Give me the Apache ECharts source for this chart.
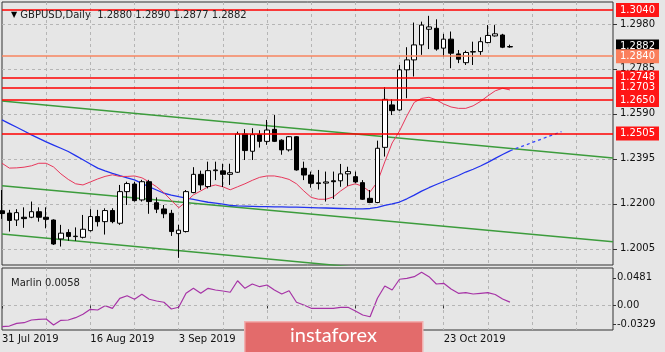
<!DOCTYPE html>
<html>
<head>
<meta charset="utf-8">
<script src="https://cdn.jsdelivr.net/npm/echarts@6/dist/echarts.min.js"></script>
<style>
  html, body { margin: 0; padding: 0; background: #e6e6e6; }
  #main { width: 665px; height: 352px; }
</style>
</head>
<body>
<div id="main"></div>
<script>
// GBPUSD daily bars, 31 Jul - 5 Nov 2019
var dates = [
  '31 Jul 2019', '1 Aug 2019', '2 Aug 2019', '5 Aug 2019', '6 Aug 2019', '7 Aug 2019', '8 Aug 2019', '9 Aug 2019',
  '12 Aug 2019', '13 Aug 2019', '14 Aug 2019', '15 Aug 2019', '16 Aug 2019', '19 Aug 2019', '20 Aug 2019', '21 Aug 2019',
  '22 Aug 2019', '23 Aug 2019', '26 Aug 2019', '27 Aug 2019', '28 Aug 2019', '29 Aug 2019', '30 Aug 2019', '2 Sep 2019',
  '3 Sep 2019', '4 Sep 2019', '5 Sep 2019', '6 Sep 2019', '9 Sep 2019', '10 Sep 2019', '11 Sep 2019', '12 Sep 2019',
  '13 Sep 2019', '16 Sep 2019', '17 Sep 2019', '18 Sep 2019', '19 Sep 2019', '20 Sep 2019', '23 Sep 2019', '24 Sep 2019',
  '25 Sep 2019', '26 Sep 2019', '27 Sep 2019', '30 Sep 2019', '1 Oct 2019', '2 Oct 2019', '3 Oct 2019', '4 Oct 2019',
  '7 Oct 2019', '8 Oct 2019', '9 Oct 2019', '10 Oct 2019', '11 Oct 2019', '14 Oct 2019', '15 Oct 2019', '16 Oct 2019',
  '17 Oct 2019', '18 Oct 2019', '21 Oct 2019', '22 Oct 2019', '23 Oct 2019', '24 Oct 2019', '25 Oct 2019', '28 Oct 2019',
  '29 Oct 2019', '30 Oct 2019', '31 Oct 2019', '1 Nov 2019', '4 Nov 2019', '5 Nov 2019'
];

var open = [
  1.2170, 1.2160, 1.2130, 1.2142, 1.2142, 1.2166, 1.2142, 1.2130, 1.2048, 1.2076,
  1.2058, 1.2055, 1.2084, 1.2145, 1.2123, 1.2171, 1.2116, 1.2253, 1.2286, 1.2217,
  1.2296, 1.2205, 1.2178, 1.2159, 1.2071, 1.2080, 1.2249, 1.2328, 1.2275, 1.2344,
  1.2343, 1.2328, 1.2337, 1.2503, 1.2428, 1.2500, 1.2471, 1.2523, 1.2476, 1.2434,
  1.2491, 1.2354, 1.2325, 1.2291, 1.2290, 1.2300, 1.2300, 1.2330, 1.2318, 1.2292,
  1.2224, 1.2206, 1.2445, 1.2629, 1.2607, 1.2781, 1.2824, 1.2889, 1.2957, 1.2961,
  1.2875, 1.2914, 1.2850, 1.2812, 1.2858, 1.2860, 1.2899, 1.2928, 1.2932, 1.2880
];
var high = [
  1.2260, 1.2174, 1.2177, 1.2185, 1.2210, 1.2185, 1.2185, 1.2133, 1.2109, 1.2090,
  1.2098, 1.2152, 1.2177, 1.2174, 1.2181, 1.2181, 1.2282, 1.2296, 1.2296, 1.2304,
  1.2304, 1.2228, 1.2195, 1.2174, 1.2109, 1.2260, 1.2359, 1.2344, 1.2383, 1.2383,
  1.2374, 1.2374, 1.2513, 1.2524, 1.2528, 1.2519, 1.2564, 1.2585, 1.2480, 1.2494,
  1.2494, 1.2383, 1.2340, 1.2347, 1.2340, 1.2340, 1.2373, 1.2361, 1.2340, 1.2303,
  1.2260, 1.2474, 1.2706, 1.2653, 1.2802, 1.2879, 1.2986, 1.2990, 1.3015, 1.3000,
  1.2937, 1.2947, 1.2867, 1.2864, 1.2903, 1.2922, 1.2975, 1.2975, 1.2937, 1.2890
];
var low = [
  1.2135, 1.2080, 1.2104, 1.2096, 1.2138, 1.2123, 1.2094, 1.2022, 1.2015, 1.2040,
  1.2040, 1.2050, 1.2080, 1.2102, 1.2067, 1.2116, 1.2109, 1.2195, 1.2210, 1.2210,
  1.2157, 1.2160, 1.2138, 1.2061, 1.1966, 1.2076, 1.2246, 1.2260, 1.2267, 1.2303,
  1.2273, 1.2282, 1.2334, 1.2390, 1.2390, 1.2444, 1.2456, 1.2468, 1.2413, 1.2427,
  1.2344, 1.2303, 1.2270, 1.2262, 1.2210, 1.2221, 1.2274, 1.2278, 1.2290, 1.2217,
  1.2203, 1.2203, 1.2405, 1.2585, 1.2604, 1.2658, 1.2752, 1.2846, 1.2871, 1.2864,
  1.2838, 1.2788, 1.2810, 1.2802, 1.2802, 1.2846, 1.2896, 1.2925, 1.2875, 1.2877
];
var close = [
  1.2158, 1.2128, 1.2162, 1.2136, 1.2166, 1.2142, 1.2133, 1.2026, 1.2073, 1.2059,
  1.2060, 1.2090, 1.2145, 1.2123, 1.2171, 1.2123, 1.2253, 1.2288, 1.2214, 1.2296,
  1.2210, 1.2177, 1.2157, 1.2080, 1.2086, 1.2253, 1.2328, 1.2282, 1.2344, 1.2347,
  1.2328, 1.2335, 1.2503, 1.2431, 1.2500, 1.2471, 1.2520, 1.2471, 1.2434, 1.2491,
  1.2347, 1.2325, 1.2289, 1.2288, 1.2295, 1.2296, 1.2330, 1.2340, 1.2295, 1.2220,
  1.2206, 1.2441, 1.2653, 1.2604, 1.2781, 1.2824, 1.2889, 1.2975, 1.2967, 1.2871,
  1.2914, 1.2853, 1.2827, 1.2856, 1.2860, 1.2903, 1.2930, 1.2937, 1.2879, 1.2882
];

// moving averages
var maSlow = [
  1.2564, 1.2548, 1.2532, 1.2516, 1.2499, 1.2484, 1.2469, 1.2455, 1.2441, 1.2427,
  1.2409, 1.2391, 1.2373, 1.2355, 1.2343, 1.2332, 1.2322, 1.2313, 1.2304, 1.2289,
  1.2274, 1.2260, 1.2246, 1.2238, 1.2231, 1.2225, 1.2219, 1.2213, 1.2207, 1.2203,
  1.2199, 1.2193, 1.2191, 1.2190, 1.2189, 1.2188, 1.2188, 1.2187, 1.2187, 1.2186,
  1.2186, 1.2185, 1.2184, 1.2183, 1.2182, 1.2181, 1.2180, 1.2179, 1.2178, 1.2178,
  1.2180, 1.2185, 1.2193, 1.2200, 1.2208, 1.2222, 1.2238, 1.2255, 1.2270, 1.2284,
  1.2297, 1.2310, 1.2323, 1.2338, 1.2350, 1.2364, 1.2380, 1.2397, 1.2414, 1.2430
];
var maSlowAhead = [[69, 1.2430], [76, 1.2513]];
var maFast = [
  1.2376, 1.2355, 1.2356, 1.2359, 1.2365, 1.2376, 1.2376, 1.2360, 1.2330, 1.2306,
  1.2287, 1.2282, 1.2295, 1.2308, 1.2319, 1.2326, 1.2319, 1.2319, 1.2321, 1.2313,
  1.2295, 1.2274, 1.2248, 1.2215, 1.2183, 1.2209, 1.2239, 1.2256, 1.2274, 1.2282,
  1.2274, 1.2261, 1.2274, 1.2287, 1.2302, 1.2315, 1.2321, 1.2321, 1.2315, 1.2306,
  1.2287, 1.2256, 1.2228, 1.2220, 1.2220, 1.2230, 1.2256, 1.2278, 1.2287, 1.2276,
  1.2252, 1.2295, 1.2382, 1.2464, 1.2516, 1.2581, 1.2640, 1.2657, 1.2662, 1.2651,
  1.2633, 1.2620, 1.2614, 1.2614, 1.2625, 1.2644, 1.2668, 1.2690, 1.2701, 1.2694
];

// trend channel lines (start bar / end bar)
var channelTop = [[0, 1.2646], [83, 1.2399]];
var channelMid = [[0, 1.2278], [83, 1.2036]];
var channelLow = [[0, 1.2069], [83, 1.1821]];

// horizontal levels
var redLevels = [1.3040, 1.2748, 1.2703, 1.2650];
var thinLevel = 1.2505;
var salmonLevel = 1.2840;

// Marlin oscillator
var marlin = [
  -0.0369, -0.0357, -0.0310, -0.0299, -0.0252, -0.0240, -0.0235, -0.0339, -0.0257, -0.0252,
  -0.0212, -0.0153, -0.0066, -0.0078, -0.0003, -0.0049, 0.0125, 0.0170, 0.0108, 0.0195,
  0.0108, 0.0078, 0.0056, -0.0061, -0.0031, 0.0212, 0.0299, 0.0212, 0.0299, 0.0270,
  0.0252, 0.0230, 0.0431, 0.0299, 0.0374, 0.0327, 0.0357, 0.0270, 0.0200, 0.0257,
  0.0056, 0.0009, -0.0049, -0.0049, -0.0049, -0.0049, -0.0031, -0.0031, -0.0096, -0.0165,
  -0.0195, 0.0125, 0.0339, 0.0270, 0.0456, 0.0473, 0.0501, 0.0577, 0.0501, 0.0374,
  0.0386, 0.0287, 0.0212, 0.0223, 0.0200, 0.0212, 0.0223, 0.0191, 0.0113, 0.0058
];

var priceTicks = [1.2005, 1.2200, 1.2395, 1.2590, 1.2785, 1.2980];
var marlinTicks = [-0.0329, 0, 0.0481];

var FONT = 'DejaVu Sans';
var emptySlots = 14;
var cats = dates.slice();
for (var k = 0; k < emptySlots; k++) cats.push('_' + k);

var candles = dates.map(function (d, i) {
  return [open[i], close[i], low[i], high[i]];
});
var last = dates.length - 1;

function isLabelBar(i) { return i < dates.length && i % 12 === 0; }
function isGridBar(i) { return i > 0 && i % 6 === 0; }

function tag(value, bg, color, width) {
  return {
    yAxis: value,
    lineStyle: { color: color, width: width, type: 'solid', opacity: 1 },
    label: { backgroundColor: bg }
  };
}

var gridLine = { show: true, interval: isGridBar, lineStyle: { color: '#b5b5b5', type: [3, 3], width: 1 } };

var myChart = echarts.init(document.getElementById('main'));
myChart.setOption({
  animation: false,
  backgroundColor: '#e6e6e6',
  title: [{
    left: 6, top: 5,
    text: '{tri|▼} GBPUSD,Daily  ' + [open[last], high[last], low[last], close[last]].map(function (v) { return v.toFixed(4); }).join(' '),
    textStyle: { fontFamily: FONT, fontSize: 10, fontWeight: 'normal', color: '#222',
      rich: { tri: { fontSize: 8, color: '#000', fontFamily: FONT } } }
  }, {
    left: 6, top: 273,
    text: 'Marlin ' + marlin[last].toFixed(4),
    textStyle: { fontFamily: FONT, fontSize: 10, fontWeight: 'normal', color: '#222' }
  }],
  grid: [
    { left: 2, right: 52, top: 2, height: 263, show: true, borderColor: '#333', borderWidth: 1, backgroundColor: 'transparent', outerBoundsMode: 'none' },
    { left: 2, right: 52, top: 268, height: 62, show: true, borderColor: '#333', borderWidth: 1, backgroundColor: 'transparent', outerBoundsMode: 'none' }
  ],
  xAxis: [{
    type: 'category', gridIndex: 0, data: cats, boundaryGap: false,
    axisLine: { show: false }, axisTick: { show: false }, axisLabel: { show: false },
    splitLine: gridLine
  }, {
    type: 'category', gridIndex: 1, data: cats, boundaryGap: false,
    axisLine: { show: false },
    axisTick: { show: true, interval: isLabelBar, length: 3, lineStyle: { color: '#333' } },
    axisLabel: { show: true, interval: isLabelBar, align: 'left', margin: 4,
      fontFamily: FONT, fontSize: 10, color: '#111' },
    splitLine: gridLine
  }],
  yAxis: [{
    type: 'value', gridIndex: 0, position: 'right', min: 1.1935, max: 1.3075,
    axisLine: { show: false },
    axisTick: { show: true, length: 4, customValues: priceTicks, lineStyle: { color: '#333' } },
    axisLabel: { customValues: priceTicks, margin: 7, fontFamily: FONT, fontSize: 10, color: '#111',
      formatter: function (v) { return v.toFixed(4); } },
    splitLine: { show: true, lineStyle: { color: '#b5b5b5', type: [3, 3], width: 1 } }
  }, {
    type: 'value', gridIndex: 1, position: 'right', min: -0.0426, max: 0.0652,
    axisLine: { show: false },
    axisTick: { show: true, length: 3, customValues: marlinTicks, lineStyle: { color: '#333' } },
    axisLabel: { customValues: marlinTicks, margin: 4, fontFamily: FONT, fontSize: 10, color: '#111',
      formatter: function (v) { return v === 0 ? '0.00' : v.toFixed(4); } },
    splitLine: { show: false }
  }],
  series: [{
    type: 'line', name: 'channel top', xAxisIndex: 0, yAxisIndex: 0, data: channelTop,
    symbol: 'none', lineStyle: { color: '#3c9c3c', width: 1.5 }, z: 1
  }, {
    type: 'line', name: 'channel mid', xAxisIndex: 0, yAxisIndex: 0, data: channelMid,
    symbol: 'none', lineStyle: { color: '#3c9c3c', width: 1.5 }, z: 1
  }, {
    type: 'line', name: 'channel low', xAxisIndex: 0, yAxisIndex: 0, data: channelLow,
    symbol: 'none', lineStyle: { color: '#3c9c3c', width: 1.5 }, z: 1
  }, {
    type: 'line', name: 'MA slow', xAxisIndex: 0, yAxisIndex: 0, data: maSlow,
    symbol: 'none', lineStyle: { color: '#2233ee', width: 1.3 }, z: 2
  }, {
    type: 'line', name: 'MA slow ahead', xAxisIndex: 0, yAxisIndex: 0, data: maSlowAhead,
    symbol: 'none', lineStyle: { color: '#3344ff', width: 1.3, type: [3, 3] }, z: 2
  }, {
    type: 'line', name: 'MA fast', xAxisIndex: 0, yAxisIndex: 0, data: maFast,
    symbol: 'none', lineStyle: { color: '#e8375b', width: 1 }, z: 2
  }, {
    type: 'candlestick', name: 'GBPUSD', xAxisIndex: 0, yAxisIndex: 0, data: candles,
    barWidth: 5, z: 3,
    itemStyle: { color: '#ffffff', color0: '#000000', borderColor: '#000000', borderColor0: '#000000', borderWidth: 1 },
    markLine: {
      symbol: ['none', 'none'], silent: true, animation: false, precision: 4,
      lineStyle: { color: '#ff0000', width: 1.5, type: 'solid' },
      label: { show: true, position: 'end', distance: 3, color: '#fff', fontFamily: FONT, fontSize: 10,
        lineHeight: 12, padding: [1, 4],
        formatter: function (p) { return p.value.toFixed(4); } },
      data: [tag(close[last], '#000000', 'rgba(0,0,0,0)', 1),
             tag(salmonLevel, '#fa7f5c', '#f7845f', 1.5),
             tag(thinLevel, '#ff1515', '#ff0000', 1.5)]
        .concat(redLevels.map(function (v) { return tag(v, '#ff1515', '#ff0000', 1.5); }))
    }
  }, {
    type: 'line', name: 'Marlin', xAxisIndex: 1, yAxisIndex: 1, data: marlin,
    symbol: 'none', lineStyle: { color: '#a633a6', width: 1.2 },
    markLine: {
      symbol: ['none', 'none'], silent: true, label: { show: false },
      lineStyle: { color: '#b5b5b5', type: [3, 3], width: 1 },
      data: [{ yAxis: 0 }]
    }
  }],
  graphic: [{
    type: 'rect', left: 244, top: 321, z: 100,
    shape: { width: 178, height: 32 },
    style: { fill: '#e36b6b', stroke: '#f2b0b0', lineWidth: 1.5 }
  }, {
    type: 'text', left: 290, top: 326, z: 101,
    style: { text: 'instaforex', fill: '#ffffff', font: '20px Lato' }
  }]
});
</script>
</body>
</html>
